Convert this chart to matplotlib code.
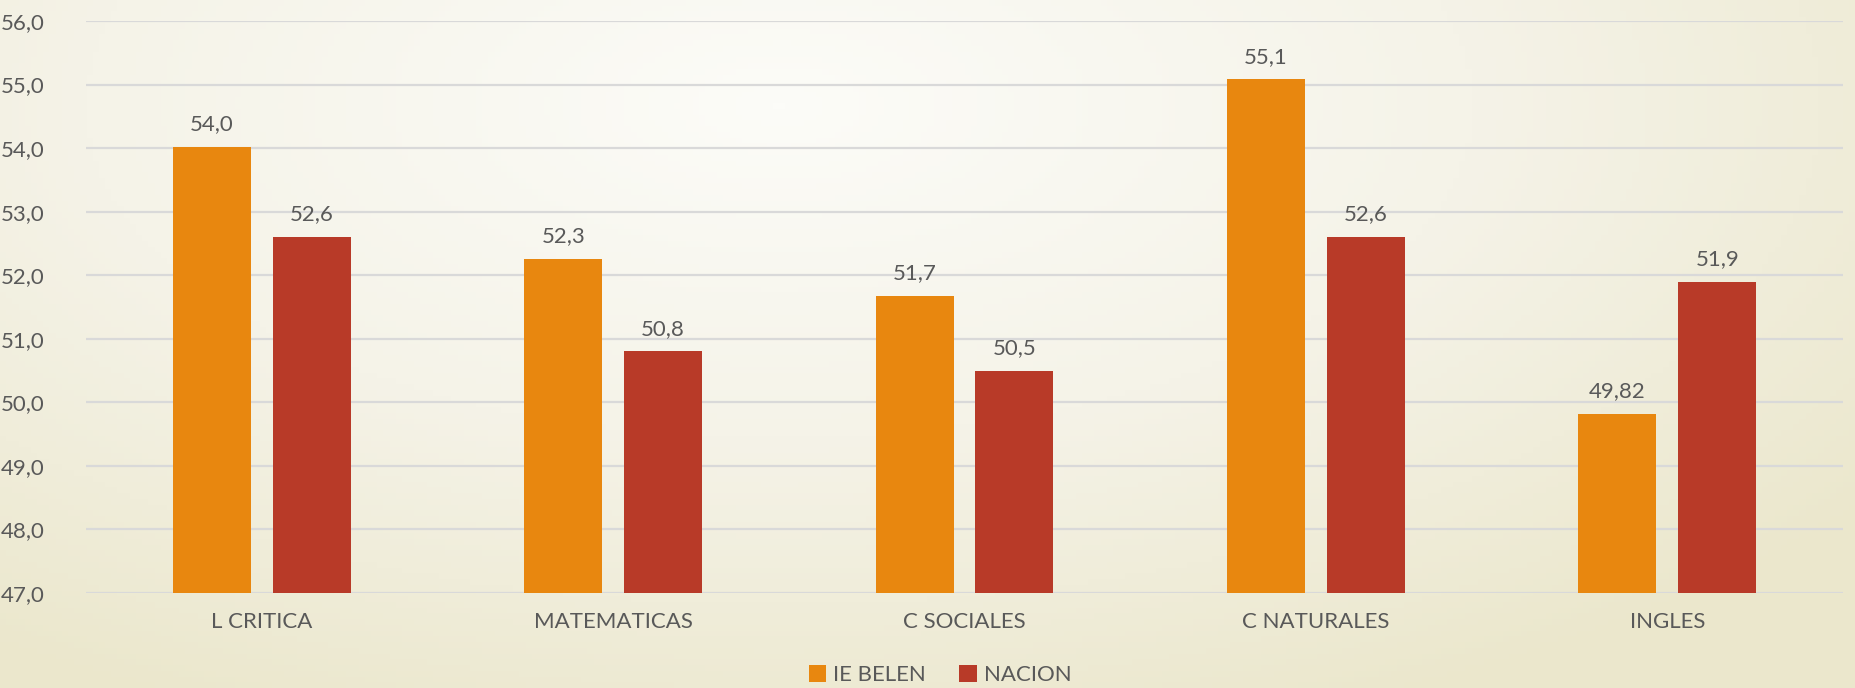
import numpy as np
import matplotlib.pyplot as plt
from matplotlib.colors import LinearSegmentedColormap

# datos
areas = ["L CRITICA", "MATEMATICAS", "C SOCIALES", "C NATURALES", "INGLES"]
ie_belen = [54.02, 52.26, 51.67, 55.08, 49.82]
nacion = [52.6, 50.8, 50.5, 52.6, 51.9]
ie_belen_txt = ["54,0", "52,3", "51,7", "55,1", "49,82"]
nacion_txt = ["52,6", "50,8", "50,5", "52,6", "51,9"]

naranja = "#E8870F"
rojo = "#B83A28"
gris = "#595959"

fig = plt.figure(figsize=(18.55, 6.88), dpi=100)

# fondo degradado
bg = fig.add_axes([0, 0, 1, 1])
xx, yy = np.meshgrid(np.linspace(0, 1, 300), np.linspace(0, 1, 120))
d = np.sqrt(((xx - 0.42) / 1.0) ** 2 + ((yy - 0.85) / 1.3) ** 2)
fondo = LinearSegmentedColormap.from_list("fondo", ["#fcfcf8", "#f5f3e8", "#ebe7cc"])
bg.imshow(d, cmap=fondo, aspect="auto", extent=[0, 1, 0, 1], origin="lower", vmin=0, vmax=0.75)
bg.axis("off")

ax = fig.add_axes([86 / 1855, 1 - 593 / 688, 1757 / 1855, 572 / 688])
ax.patch.set_alpha(0)

x = np.arange(len(areas))
w = 0.222
off = 0.142
b1 = ax.bar(x - off, np.array(ie_belen) - 47, w, bottom=47, color=naranja, label="IE BELEN", zorder=3)
b2 = ax.bar(x + off, np.array(nacion) - 47, w, bottom=47, color=rojo, label="NACION", zorder=3)

for rect, t in zip(b1, ie_belen_txt):
    ax.text(rect.get_x() + rect.get_width() / 2, rect.get_y() + rect.get_height() + 0.2, t,
            ha="center", va="bottom", fontsize=16, color=gris, family="Lato")
for rect, t in zip(b2, nacion_txt):
    ax.text(rect.get_x() + rect.get_width() / 2, rect.get_y() + rect.get_height() + 0.2, t,
            ha="center", va="bottom", fontsize=16, color=gris, family="Lato")

ax.set_ylim(47, 56)
ax.set_xlim(-0.5, len(areas) - 0.5)
ax.set_yticks(np.arange(47, 57, 1))
ax.set_yticklabels([f"{v:.1f}".replace(".", ",") for v in np.arange(47, 57, 1)])
ax.set_xticks(x)
ax.set_xticklabels(areas)
ax.tick_params(length=0, labelsize=16, labelcolor=gris, pad=14)
ax.tick_params(axis="y", pad=30)
for lab in ax.get_xticklabels() + ax.get_yticklabels():
    lab.set_family("Lato")
ax.grid(axis="y", color="#d9d9d9", linewidth=1.6, zorder=0)
for s in ax.spines.values():
    s.set_visible(False)

leg = fig.legend(loc="center", bbox_to_anchor=(940 / 1855, 1 - 675 / 688), ncol=2, frameon=False,
                 handlelength=0.8, handleheight=0.8, handletextpad=0.3, columnspacing=1.5,
                 prop={"family": "Lato", "size": 16})
for t in leg.get_texts():
    t.set_color(gris)

fig.savefig("out.png", dpi=100)
